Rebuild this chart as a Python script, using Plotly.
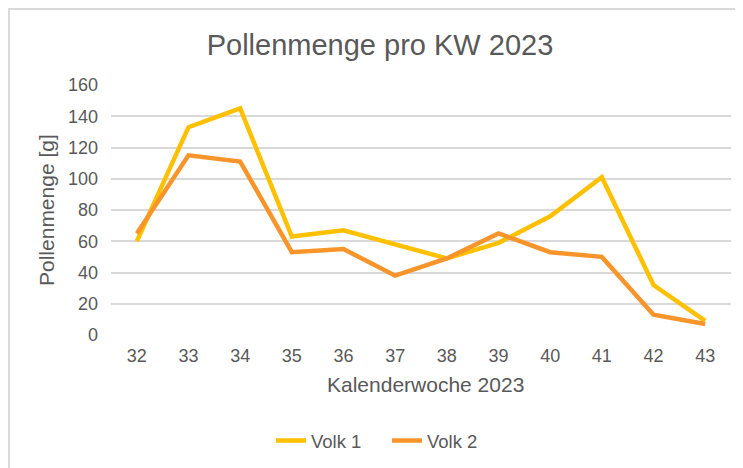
import plotly.graph_objects as go

weeks = ["32", "33", "34", "35", "36", "37", "38", "39", "40", "41", "42", "43"]
volk1 = [60, 133, 145, 63, 67, 58, 49, 59, 76, 101, 32, 9]
volk2 = [65, 115, 111, 53, 55, 38, 49, 65, 53, 50, 13, 7]
y_ticks = [0, 20, 40, 60, 80, 100, 120, 140, 160]

# the page body adds an 8px offset; lay out in reference pixels minus 8
OFF = 8
W, H = 743 - OFF, 468 - OFF
L, T = 111 - OFF, 85 - OFF
R = W - (731 - OFF)
B = H - (335 - OFF)
pw, ph = W - L - R, H - T - B

def px_x(x):
    return (x - OFF - L) / pw

def px_y(y):
    return (H - B - (y - OFF)) / ph

def cx(x):
    return (x - OFF) / W

def cy(y):
    return 1 - (y - OFF) / H

FONT = "Liberation Sans"
GREY = "#595959"

fig = go.Figure()
fig.add_trace(go.Scatter(x=weeks, y=volk1, name="Volk 1", mode="lines",
                         line=dict(color="#FFC000", width=4.5)))
fig.add_trace(go.Scatter(x=weeks, y=volk2, name="Volk 2", mode="lines",
                         line=dict(color="#F7952A", width=4.5)))

fig.update_layout(
    width=W, height=H,
    margin=dict(l=L, r=R, t=T, b=B, autoexpand=False),
    paper_bgcolor="white", plot_bgcolor="white",
    font=dict(family=FONT, color=GREY, size=18),
    title=dict(text="Pollenmenge pro KW 2023", font=dict(size=29, color=GREY, family=FONT),
               x=cx(380), xref="container", xanchor="center",
               y=cy(45), yref="container", yanchor="middle"),
    showlegend=True,
    legend=dict(orientation="h", xref="container", yref="container",
                x=cx(387), xanchor="center", y=cy(441), yanchor="middle",
                font=dict(size=18.5, color=GREY), itemwidth=30, traceorder="normal",
                entrywidth=71, entrywidthmode="pixels"),
    xaxis=dict(type="category", range=[-0.5, len(weeks) - 0.5], showgrid=False,
               showline=False, zeroline=False, ticks="", ticklen=0, ticklabelstandoff=8,
               tickfont=dict(size=18, color=GREY)),
    yaxis=dict(range=[0, 160], tickvals=y_ticks, showgrid=True, gridcolor="#D9D9D9",
               gridwidth=1.5, zeroline=False, showline=False, ticks="", ticklabelstandoff=12,
               tickfont=dict(size=18, color=GREY)),
)

fig.add_annotation(text="Kalenderwoche 2023", xref="paper", yref="paper",
                   x=px_x(425), y=px_y(384), xanchor="center", yanchor="middle",
                   showarrow=False, font=dict(size=21, color=GREY, family=FONT))
fig.add_annotation(text="Pollenmenge [g]", xref="paper", yref="paper",
                   x=px_x(46), y=px_y(210), xanchor="center", yanchor="middle",
                   showarrow=False, textangle=-90,
                   font=dict(size=21, color=GREY, family=FONT))

# light frame (top and left edges)
fig.add_shape(type="line", xref="paper", yref="paper",
              x0=px_x(OFF), x1=px_x(743), y0=px_y(OFF + 1), y1=px_y(OFF + 1),
              line=dict(color="#D9D9D9", width=2))
fig.add_shape(type="line", xref="paper", yref="paper",
              x0=px_x(OFF + 1), x1=px_x(OFF + 1), y0=px_y(OFF), y1=px_y(468),
              line=dict(color="#D9D9D9", width=2))

fig.write_html("out.html")
